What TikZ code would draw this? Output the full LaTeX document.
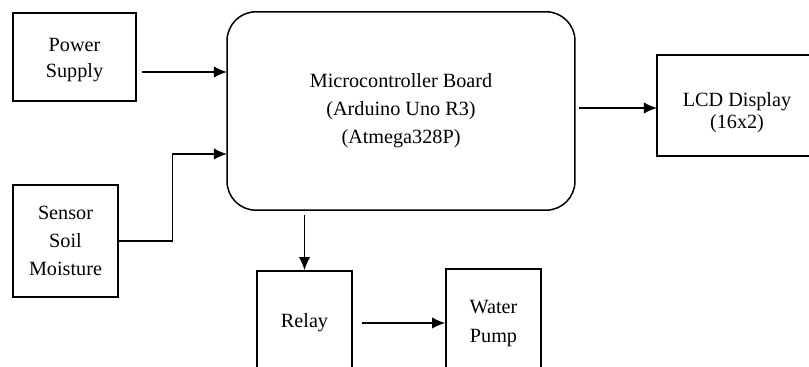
\documentclass[tikz,border=0pt]{standalone}
\usepackage{fontspec}
\setmainfont{Liberation Serif}
\usetikzlibrary{positioning, calc, arrows.meta}

\tikzset{
    blk/.style={draw, line width=0.85pt, align=center, inner sep=0pt,
        font=\fontsize{11.5}{16}\selectfont},
    txt/.style={align=center, inner sep=0pt, font=\fontsize{11.5}{14}\selectfont},
    >={Latex[length=7.5pt, width=6.5pt]}
}

\begin{document}
\begin{tikzpicture}[x=0.02cm, y=-0.02cm, line width=0.85pt]

    % --- Frame ---
    \useasboundingbox (0,0) rectangle (809,367);
    \clip (0,0) rectangle (809,367);

    % --- Blocks ---
    \node[blk, minimum width=2.46cm, minimum height=1.76cm,
        label={[txt, yshift=-1.8pt, font=\fontsize{11.5}{15}\selectfont]center:Power\\Supply}] (power) at (74.5,57) {};
    \node[blk, minimum width=2.1cm, minimum height=2.24cm] (sensor) at (65.5,241) {Sensor\\Soil\\Moisture};
    \node[blk, rounded corners=0.58cm, minimum width=6.96cm, minimum height=3.97cm] (board) at (401,111)
        {Microcontroller Board\\(Arduino Uno R3)\\(Atmega328P)};
    \node[blk, minimum width=3.2cm, minimum height=2.02cm,
        label={[txt, yshift=-3.8pt, font=\fontsize{11.5}{12.5}\selectfont]center:LCD Display\\(16x2)}] (lcd) at (737,105.5) {};
    \node[blk, minimum width=1.9cm, minimum height=2.08cm] (relay) at (304.5,323) {Relay};
    \node[blk, minimum width=1.9cm, minimum height=2.18cm, font=\fontsize{11.5}{17}\selectfont] (pump) at (493.5,323.5) {Water\\Pump};

    % --- Inputs ---
    \coordinate (psin) at (227,72);
    \coordinate (snin) at (227,154);
    \draw[->, shorten <=3pt] (power.east |- psin) -- (psin);
    \draw[->] (sensor.east) -- ++(54,0) |- (snin);

    % --- Outputs ---
    \coordinate (lcdin) at (657,108);
    \draw[->, shorten <=2pt] (board.east |- lcdin) -- (lcdin);
    \draw[->, shorten <=2.5pt] (board.south -| relay.north) -- (relay.north);
    \draw[->, shorten <=5pt] (relay.east) -- (relay.east -| pump.west);

\end{tikzpicture}
\end{document}
